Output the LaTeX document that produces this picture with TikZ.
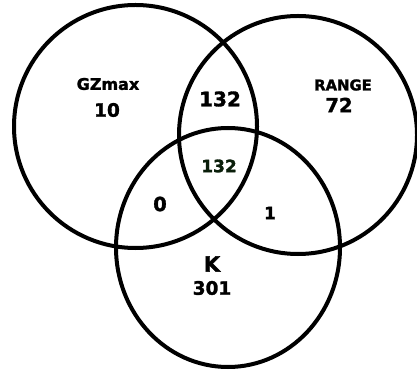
\documentclass[tikz,border=0pt]{standalone}
\usepackage{fontspec}
\setmainfont{DejaVu Sans}[BoldFeatures={FakeBold=1.6}]
\begin{document}
\begin{tikzpicture}[x=1pt,y=-1pt,
  ring/.style={draw=black,line width=4pt},
  lbl/.style={font=\bfseries\fontsize{#1}{#1}\selectfont,inner sep=0pt,anchor=center}]
\useasboundingbox (0,0) rectangle (417,371);
\fill[white] (0,0) rectangle (417,371);
\draw[ring] (135.5,126.5) circle[radius=121.5];
\draw[ring] (298,135) circle[radius=119];
\draw[ring] (228,247.5) ellipse[x radius=112,y radius=119.5];
\node[lbl=16] (gz) at (108,84) {GZmax};
\node[lbl=18.5] (gzn) at (107,110) {10};
\node[lbl=14.8] (rg) at (343,85) {RANGE};
\node[lbl=19.5] (rgn) at (339,105) {72};
\node[lbl=20] (ab) at (220,99) {132};
\node[lbl=17,text={rgb,255:red,10;green,30;blue,10}] (abc) at (219,166) {132};
\node[lbl=19.5] (ac) at (160,204) {0};
\node[lbl=17] (bc) at (270,213) {1};
\node[lbl=21] (k) at (212,264) {K};
\node[lbl=18.5] (kn) at (212,288) {301};
\end{tikzpicture}
\end{document}
